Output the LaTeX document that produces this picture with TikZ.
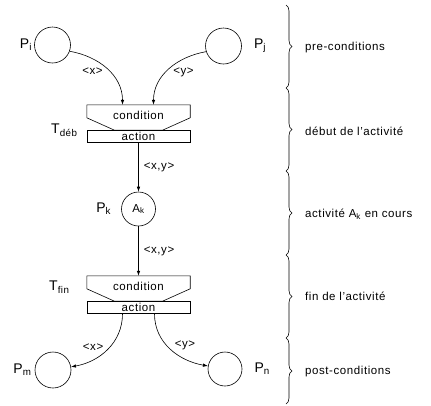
\documentclass[tikz,border=0pt]{standalone}
\usepackage{fontspec}
\setmainfont{Liberation Sans}[LetterSpace=5]
\usetikzlibrary{positioning,arrows.meta,calc,decorations.pathreplacing}

\begin{document}
\begin{tikzpicture}[x=1pt, y=-1pt,
  font=\fontsize{11.5}{13}\selectfont,
  lieu/.style={draw, circle, line width=0.6pt, minimum size=36pt, inner sep=0pt},
  cond/.style={minimum width=103pt, minimum height=25pt, inner sep=0pt, text depth=5pt},
  act/.style={draw, line width=0.6pt, minimum width=103pt, minimum height=12pt, inner sep=0pt},
  nom/.style={font=\fontsize{14}{16}\selectfont, inner sep=0pt},
  flux/.style={-{Latex[length=5pt,width=3.5pt]}, line width=0.6pt},
  inscr/.style={inner sep=1pt},
  accol/.style={decorate, decoration={brace, amplitude=6pt}, line width=0.6pt},
  phase/.style={anchor=west, inner sep=0pt}]
\useasboundingbox (0,0) rectangle (431,405);
% places
\node[lieu] (pi) at (52.5,45) {};
\node[lieu] (pj) at (223.5,46) {};
\node[lieu, minimum size=34pt] (pk) at (138.5,209) {A\textsubscript{k}};
\node[lieu] (pm) at (53,370) {};
\node[lieu, minimum size=34pt] (pn) at (225,369) {};
\node[nom, left=2pt of pi] (lpi) {P\textsubscript{i}};
\node[nom, right=12pt of pj] (lpj) {P\textsubscript{j}};
\node[nom, left=10pt of pk] (lpk) {P\textsubscript{k}};
\node[nom, left=3pt of pm] (lpm) {P\textsubscript{m}};
\node[nom, right=12pt of pn] (lpn) {P\textsubscript{n}};
% transitions
\node[cond] (cdeb) at (138.5,117.5) {condition};
\node[act, below=0pt of cdeb] (adeb) {action};
\draw[line width=0.6pt] (cdeb.north west) -- (cdeb.north east) -- ($(cdeb.north east)+(0,13)$)
  -- ($(cdeb.south)+(24,0)$) -- ($(cdeb.south)+(-24,0)$) -- ($(cdeb.north west)+(0,13)$) -- cycle;
\node[nom, anchor=east] (tdeb) at ($(cdeb.south west)+(-9,0)$) {T\textsubscript{déb}};
\node[cond] (cfin) at (138.5,288.5) {condition};
\node[act, below=0pt of cfin] (afin) {action};
\draw[line width=0.6pt] (cfin.north west) -- (cfin.north east) -- ($(cfin.north east)+(0,13)$)
  -- ($(cfin.south)+(24,0)$) -- ($(cfin.south)+(-24,0)$) -- ($(cfin.north west)+(0,13)$) -- cycle;
\node[nom, anchor=east] (tfin) at ($(cfin.south west)+(-17,-14)$) {T\textsubscript{fin}};
% arcs
\coordinate (e1) at ($(cdeb.north)+(-16,0)$);
\coordinate (e2) at ($(cdeb.north)+(15,0)$);
\coordinate (s1) at ($(afin.south)+(-16,0)$);
\coordinate (s2) at ($(afin.south)+(16,0)$);
\draw[flux] (pi.-20) to[out=-10, in=90] node[inscr, pos=0.45, below left] (ax) {<x>} (e1);
\draw[flux] (pj.-162) to[out=-170, in=90] node[inscr, pos=0.45, below right] (ay) {<y>} (e2);
\draw[flux] (adeb) -- node[inscr, right=4pt] (axy1) {<x,y>} (pk);
\draw[flux] (pk) -- node[inscr, right=4pt] (axy2) {<x,y>} (cfin);
\draw[flux] (s1) to[out=-90, in=10] node[inscr, pos=0.55, above left] (bx) {<x>} (pm.10);
\draw[flux] (s2) to[out=-90, in=170] node[inscr, pos=0.55, above right] (by) {<y>} (pn.170);
% phases
\draw[accol] (286,5) -- (286,88);
\draw[accol] (286,88) -- (286,171);
\draw[accol] (286,171) -- (286,255);
\draw[accol] (286,255) -- (286,338);
\draw[accol] (286,338) -- (286,404);
\node[phase] (ph1) at (305,48) {pre-conditions};
\node[phase] (ph2) at (305,131) {début de l'activité};
\node[phase] (ph3) at (305,214) {activité A\textsubscript{k} en cours};
\node[phase] (ph4) at (305,296) {fin de l'activité};
\node[phase] (ph5) at (305,372) {post-conditions};
\end{tikzpicture}
\end{document}
